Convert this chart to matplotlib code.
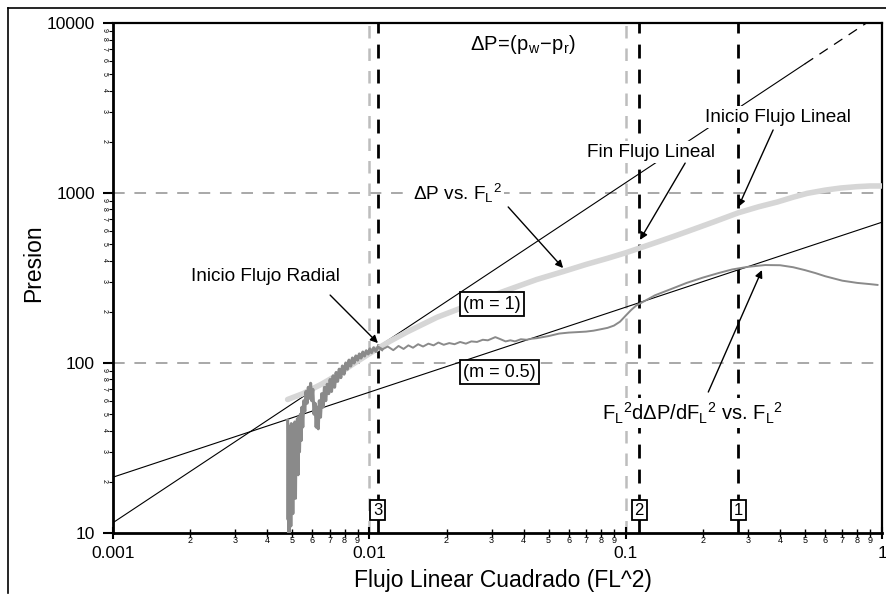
import numpy as np
import matplotlib
matplotlib.use('Agg')
import matplotlib.pyplot as plt
from matplotlib.ticker import LogLocator, FuncFormatter
from matplotlib.lines import Line2D

plt.rcParams['font.family'] = ['Liberation Sans', 'DejaVu Sans']
plt.rcParams['mathtext.default'] = 'regular'

# Delta P vs FL^2 (light gray thick curve)
dp_x = [0.0048, 0.0055, 0.0065, 0.0075, 0.0085, 0.0095, 0.0108, 0.012, 0.014, 0.0184,
        0.025, 0.033, 0.045, 0.057, 0.07, 0.085, 0.1, 0.115, 0.133, 0.155, 0.173, 0.22,
        0.275, 0.33, 0.39, 0.45, 0.51, 0.6, 0.69, 0.8, 0.9, 1.0]
dp_y = [61, 66, 75, 85, 97, 108, 122, 134, 152, 186,
        222, 262, 310, 345, 380, 413, 445, 478, 515, 558, 592, 675,
        765, 830, 885, 945, 995, 1040, 1070, 1090, 1100, 1100]

# derivative FL^2 dDP/dFL^2, early noisy part
der_x_noisy = [0.00480, 0.00482, 0.00484, 0.00486, 0.00488, 0.00490, 0.00492, 0.00494, 0.00496,
               0.00498, 0.00500, 0.00503, 0.00506, 0.00509, 0.00512, 0.00515, 0.00518, 0.00521,
               0.00524, 0.00527, 0.00530, 0.00534, 0.00538, 0.00542, 0.00546, 0.00550, 0.00555,
               0.00560, 0.00566, 0.00572, 0.00578, 0.00584, 0.00590, 0.00596, 0.00602, 0.00608,
               0.00614, 0.00620, 0.00626, 0.00632, 0.00638, 0.00645, 0.00652, 0.00660, 0.00668,
               0.00676, 0.00685, 0.00694, 0.00703, 0.00712, 0.00722, 0.00732, 0.00742, 0.00752,
               0.00763, 0.00774, 0.00785, 0.00797, 0.00809, 0.00821, 0.00833, 0.00846, 0.00859,
               0.00872, 0.00886, 0.00900, 0.00914, 0.00928, 0.00943, 0.00958, 0.00973, 0.00990,
               0.01005, 0.01020, 0.01040, 0.01060, 0.01080, 0.0112]
der_y_noisy = [46, 12, 40, 10, 42, 15, 38, 11, 44,
               18, 40, 13, 43, 20, 45, 16, 42, 25,
               47, 22, 48, 30, 50, 35, 55, 42, 60,
               52, 68, 58, 72, 62, 76, 60, 70, 50,
               58, 42, 55, 41, 60, 48, 66, 55, 72,
               60, 75, 66, 80, 68, 84, 72, 88, 78,
               92, 82, 96, 86, 100, 92, 104, 96, 107,
               100, 110, 104, 113, 107, 116, 110, 118, 113,
               121, 115, 123, 117, 124, 120]

# derivative, later smoother part
der_x = [0.0112, 0.0118, 0.0124, 0.013, 0.0136, 0.0142, 0.0148, 0.0155, 0.0162, 0.017,
         0.0178, 0.0186, 0.0195, 0.0205, 0.0215, 0.0226, 0.0238, 0.025, 0.0263, 0.0277,
         0.029, 0.031, 0.0325, 0.034, 0.0355, 0.037, 0.039, 0.041, 0.043, 0.045, 0.05,
         0.055, 0.06, 0.065, 0.07, 0.075, 0.08, 0.085, 0.09, 0.095, 0.1, 0.105, 0.11,
         0.12, 0.13, 0.15, 0.173, 0.2, 0.23, 0.26, 0.3, 0.35, 0.4, 0.45, 0.5, 0.55, 0.6,
         0.7, 0.8, 0.9, 0.96]
der_y = [120, 125, 119, 126, 121, 127, 123, 129, 125, 130,
         127, 132, 128, 131, 129, 133, 130, 134, 133, 137,
         136, 142, 138, 134, 136, 134, 138, 137, 139, 140, 144,
         149, 151, 152, 153, 155, 158, 161, 166, 175, 190, 205, 218,
         234, 250, 272, 296, 318, 338, 355, 368, 377, 376, 366, 352, 338, 324,
         305, 296, 291, 288]

# straight lines: slope 1 and slope 0.5 (values at FL^2 = 0.001)
m1_start = 11.5
m05_start = 21.3
m1_solid_end = 0.5

vlines_gray = [0.01, 0.1]
vlines_black = [0.0108, 0.113, 0.275]
vline_tags = ['3', '2', '1']
hlines_gray = [100, 1000]

fig = plt.figure(figsize=(8.87, 5.95), dpi=100)
ax = fig.add_axes([0.1274, 0.1042, 0.8670, 0.8571])

ax.set_xscale('log')
ax.set_yscale('log')
ax.set_xlim(0.001, 1)
ax.set_ylim(10, 10000)

# reference lines
for yv in hlines_gray:
    ax.axhline(yv, color='#a8a8a8', lw=1.4, dashes=(6, 5), zorder=1)
for xv in vlines_gray:
    ax.axvline(xv, color='#bdbdbd', lw=1.8, dashes=(5, 4), zorder=1)
for xv in vlines_black:
    ax.axvline(xv, color='black', lw=2.0, dashes=(5, 4), zorder=1)

# m = 1 and m = 0.5 lines
xs = np.logspace(-3, np.log10(m1_solid_end), 50)
ax.plot(xs, m1_start * xs / 0.001, color='black', lw=0.8, zorder=2)
xs2 = np.logspace(np.log10(m1_solid_end), 0, 20)
ax.plot(xs2, m1_start * xs2 / 0.001, color='black', lw=0.9, dashes=(8, 6), zorder=2)
xs3 = np.logspace(-3, 0, 50)
ax.plot(xs3, m05_start * np.sqrt(xs3 / 0.001), color='black', lw=0.8, zorder=2)

# curves
ax.plot(dp_x, dp_y, color='#d6d6d6', lw=4.0, solid_capstyle='round', zorder=3)
ax.plot(der_x_noisy, der_y_noisy, color='#8a8a8a', lw=2.2, zorder=3)
ax.plot(der_x, der_y, color='#8a8a8a', lw=1.4, zorder=3)

# ticks
ax.xaxis.set_major_locator(LogLocator(base=10, numticks=10))
ax.yaxis.set_major_locator(LogLocator(base=10, numticks=10))
ax.xaxis.set_minor_locator(LogLocator(base=10, subs=np.arange(2, 10), numticks=20))
ax.yaxis.set_minor_locator(LogLocator(base=10, subs=np.arange(2, 10), numticks=20))
ax.xaxis.set_major_formatter(FuncFormatter(lambda v, p: '%g' % v))
ax.yaxis.set_major_formatter(FuncFormatter(lambda v, p: '%d' % round(v)))
digit = lambda v, p: '%d' % round(v / 10 ** np.floor(np.log10(v) + 1e-9))
ax.xaxis.set_minor_formatter(FuncFormatter(digit))
ax.yaxis.set_minor_formatter(FuncFormatter(digit))

ax.tick_params(axis='x', which='major', direction='inout', length=9, width=1.5,
               labelsize=12.5, pad=5)
ax.tick_params(axis='x', which='minor', direction='inout', length=6, width=1.0,
               labelsize=6.5, pad=-1)
ax.tick_params(axis='y', which='major', direction='out', length=7, width=1.5,
               labelsize=12.5, pad=6)
ax.tick_params(axis='y', which='minor', direction='out', length=3, width=0.8,
               labelsize=5, pad=1, labelrotation=270)

for s in ['left', 'bottom']:
    ax.spines[s].set_linewidth(2.0)
for s in ['top', 'right']:
    ax.spines[s].set_linewidth(1.6)

ax.set_xlabel('Flujo Linear Cuadrado (FL^2)', fontsize=16.5)
ax.set_ylabel('Presion', fontsize=16.5)
ax.xaxis.set_label_coords(0.507, -0.071)
ax.yaxis.set_label_coords(-0.088, 0.53)

# text labels
wb = dict(facecolor='white', edgecolor='none', pad=1.5)
kb = dict(facecolor='white', edgecolor='black', lw=1.3, pad=2.5)
tsz = 13.7

ax.text(0.0398, 7430, r'$\Delta P\!=\!(p_w\!-\!p_r)$', fontsize=14.5, ha='center', va='center', zorder=5)
ax.text(0.00392, 321, 'Inicio Flujo Radial', fontsize=tsz, ha='center', va='center', bbox=wb, zorder=5)
ax.text(0.0148, 990, r'$\Delta P$ vs. F$_L$$^2$', fontsize=tsz, ha='left', va='center', bbox=wb, zorder=5)
ax.text(0.1256, 1742, 'Fin Flujo Lineal', fontsize=tsz, ha='center', va='center', bbox=wb, zorder=5)
ax.text(0.393, 2800, 'Inicio Flujo Lineal', fontsize=tsz, ha='center', va='center', bbox=wb, zorder=5)
ax.text(0.1815, 50.8, r'F$_L$$^2$d$\Delta P$/dF$_L$$^2$ vs. F$_L$$^2$', fontsize=14.5,
        ha='center', va='center', bbox=wb, zorder=5)
ax.text(0.0232, 222, '(m = 1)', fontsize=13, ha='left', va='center', bbox=kb, zorder=5)
ax.text(0.0232, 88.5, '(m = 0.5)', fontsize=13, ha='left', va='center', bbox=kb, zorder=5)

for xv, tag in zip(vlines_black, vline_tags):
    ax.text(xv, 0.045, tag, fontsize=12, ha='center', va='center',
            transform=ax.get_xaxis_transform(), bbox=dict(facecolor='white', edgecolor='black',
                                                          lw=1.3, pad=2), zorder=5)

arr = dict(arrowstyle='-|>', color='black', lw=1.0, mutation_scale=11, shrinkA=0, shrinkB=0)
ax.annotate('', xy=(0.0108, 131), xytext=(0.00703, 251), arrowprops=arr, zorder=6)
ax.annotate('', xy=(0.057, 362), xytext=(0.0348, 828), arrowprops=arr, zorder=6)
ax.annotate('', xy=(0.1137, 530), xytext=(0.1706, 1500), arrowprops=arr, zorder=6)
ax.annotate('', xy=(0.275, 828), xytext=(0.376, 2350), arrowprops=arr, zorder=6)
ax.annotate('', xy=(0.34, 352), xytext=(0.21, 67.5), arrowprops=arr, zorder=6)

# outer frame of the scanned figure
fig.add_artist(Line2D([0.009, 1.0], [0.9866, 0.9866], color='black', lw=1.2))
fig.add_artist(Line2D([0.009, 0.009], [0.003, 0.9866], color='black', lw=1.2))

fig.savefig('out.png', dpi=100)
